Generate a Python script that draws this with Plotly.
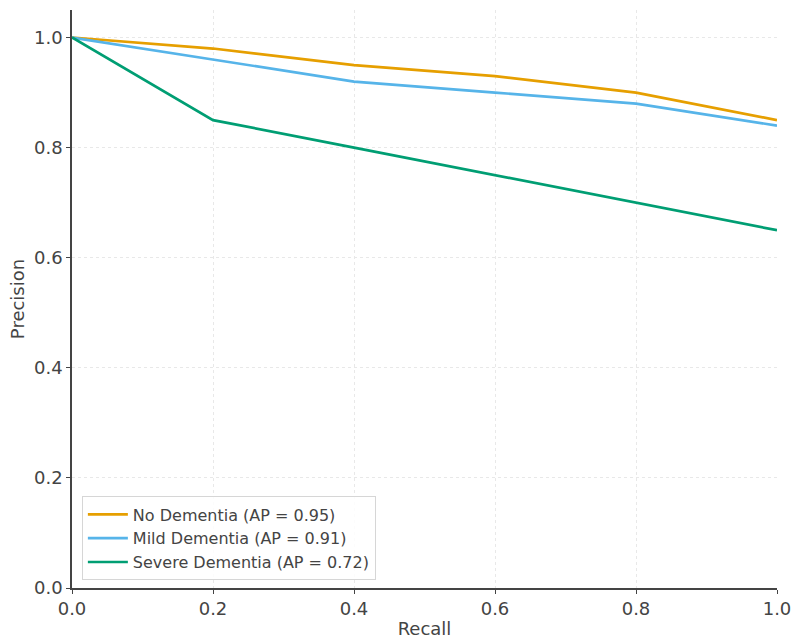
import plotly.graph_objects as go

recall = [0.0, 0.2, 0.4, 0.6, 0.8, 1.0]
no_dementia = [1.0, 0.98, 0.95, 0.93, 0.90, 0.85]
mild_dementia = [1.0, 0.96, 0.92, 0.90, 0.88, 0.84]
severe_dementia = [1.0, 0.85, 0.80, 0.75, 0.70, 0.65]
names = ["No Dementia (AP = 0.95)", "Mild Dementia (AP = 0.91)", "Severe Dementia (AP = 0.72)"]
colors = ["#E69F00", "#56B4E9", "#009E73"]
x_ticks = [0.0, 0.2, 0.4, 0.6, 0.8, 1.0]
y_ticks = [0.0, 0.2, 0.4, 0.6, 0.8, 1.0]

fig = go.Figure()
for ys, name, c in zip([no_dementia, mild_dementia, severe_dementia], names, colors):
    fig.add_trace(go.Scatter(x=recall, y=ys, mode="lines", name=name,
                             line=dict(color=c, width=2.7)))

font = "DejaVu Sans, sans-serif"
fig.update_layout(
    width=792, height=639,
    margin=dict(l=72, r=15, t=10, b=51),
    plot_bgcolor="white", paper_bgcolor="white",
    font=dict(family=font, size=18, color="#444444"),
    showlegend=True,
    legend=dict(x=0.014, y=0.013, xanchor="left", yanchor="bottom",
                bgcolor="rgba(255,255,255,0.85)", bordercolor="#d6d6d6", borderwidth=1,
                font=dict(family=font, size=16, color="#444444"),
                itemwidth=40, tracegroupgap=0),
)
fig.update_xaxes(
    range=[0, 1], tickvals=x_ticks, ticktext=[f"{v:.1f}" for v in x_ticks],
    showgrid=True, gridcolor="#e8e8e8", griddash="dot", gridwidth=1,
    showline=True, linecolor="#444444", linewidth=1.5,
    ticks="outside", ticklen=4, tickcolor="#444444",
    zeroline=False, automargin=False,
    title=dict(text="Recall", standoff=4, font=dict(size=18)),
)
fig.update_yaxes(
    range=[0, 1.05], tickvals=y_ticks, ticktext=[f"{v:.1f}" for v in y_ticks],
    showgrid=True, gridcolor="#e8e8e8", griddash="dot", gridwidth=1,
    showline=True, linecolor="#444444", linewidth=1.5,
    ticks="outside", ticklen=4, tickcolor="#444444",
    zeroline=False, automargin=False,
    title=dict(text="Precision", standoff=5, font=dict(size=18)),
)

fig.write_html("out.html")
